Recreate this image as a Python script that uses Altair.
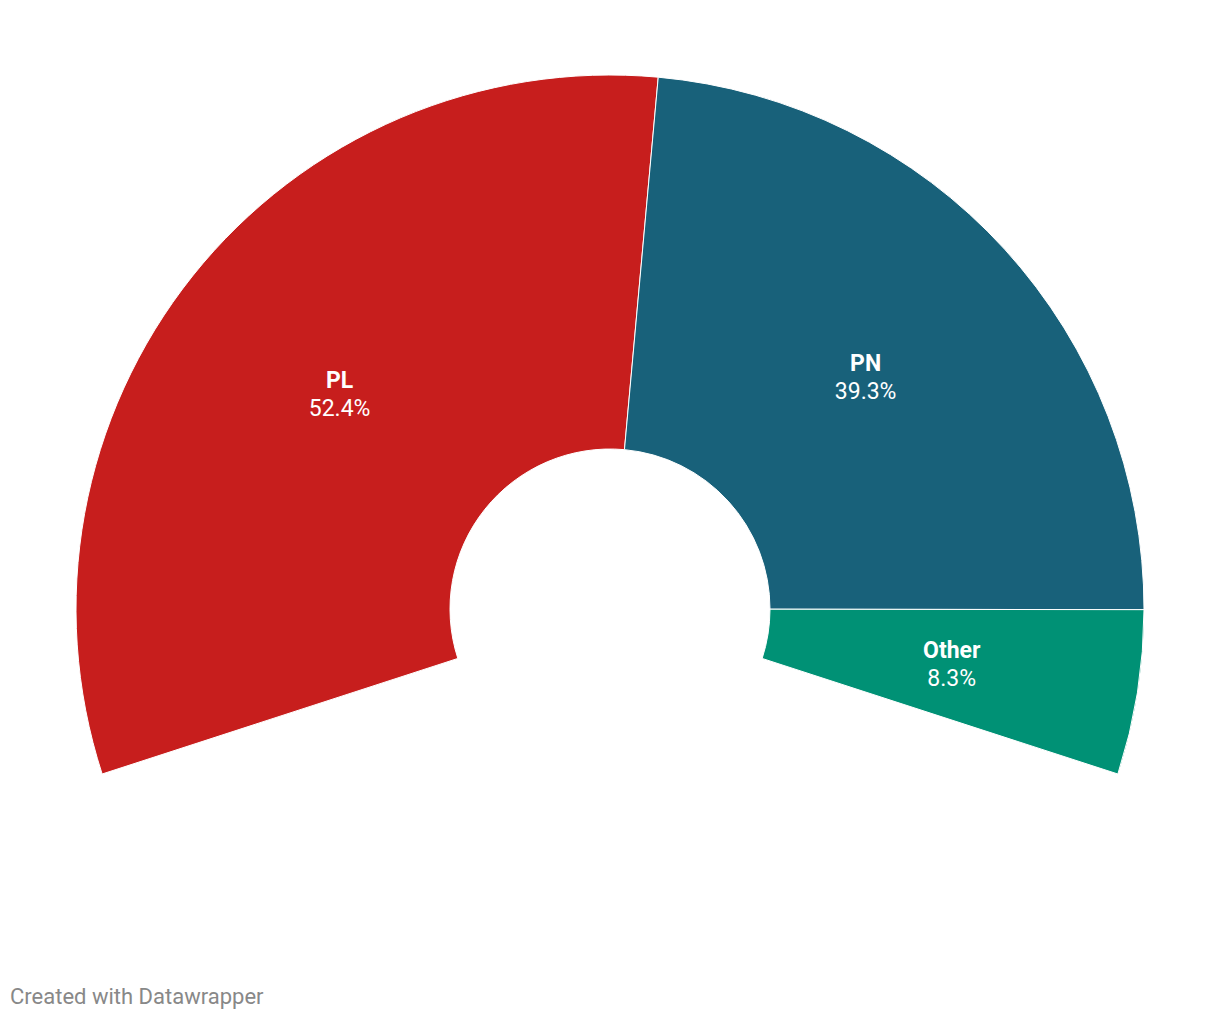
import math
import altair as alt
import pandas as pd

parties = ["PL", "PN", "Other"]
shares = [52.4, 39.3, 8.3]
colors = ["#c71e1d", "#18617a", "#009175"]
footer_text = ["Created with Datawrapper"]

df = pd.DataFrame({
    "party": parties,
    "share": shares,
    "idx": list(range(len(parties))),
    "pct": [f"{v:.1f}%" for v in shares],
})

half = math.radians(108)
cx, cy = 610, 609

theta = alt.Theta("share:Q", stack=True,
                  scale=alt.Scale(domain=[0, sum(shares)], range=[-half, half]))
order = alt.Order("idx:Q")
color = alt.Color("party:N", scale=alt.Scale(domain=parties, range=colors), legend=None)

base = alt.Chart(df).encode(theta=theta, order=order,
                            x=alt.value(cx), y=alt.value(cy))

arcs = base.mark_arc(innerRadius=160, outerRadius=534, stroke="white",
                     strokeWidth=1).encode(color=color)

names = base.mark_text(radius=346, dy=-12, font="Roboto", fontSize=23,
                       fontWeight="bold", color="white").encode(text="party:N")
pcts = base.mark_text(radius=346, dy=16, font="Roboto", fontSize=23,
                      color="white").encode(text="pct:N")

footer = alt.Chart(pd.DataFrame({"t": footer_text})).mark_text(
    font="Roboto", fontSize=22, color="#888888", align="left", baseline="middle"
).encode(x=alt.value(10), y=alt.value(997), text="t:N")

chart = alt.layer(arcs, names, pcts, footer).properties(
    width=1220, height=1020, padding=0, autosize=alt.AutoSizeParams(type="none")
).configure_view(stroke=None)

chart.save("out.html", embed_options={"renderer": "svg", "actions": False})
